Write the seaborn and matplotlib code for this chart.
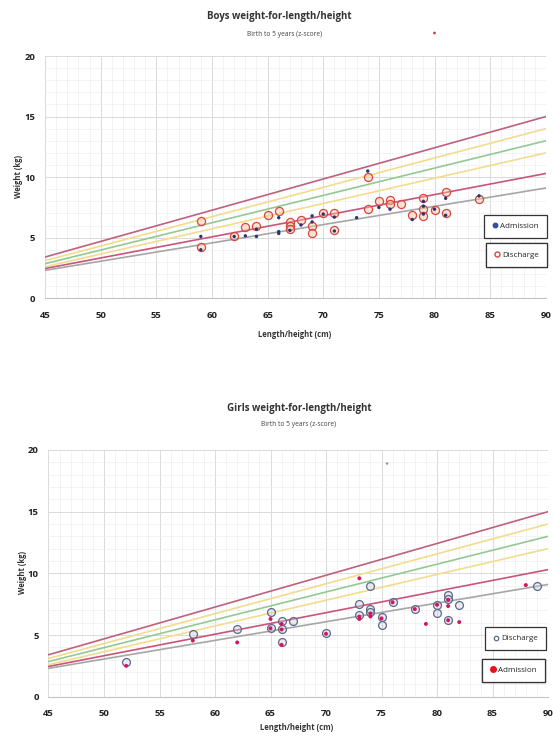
import numpy as np
import pandas as pd
import matplotlib
matplotlib.use('Agg')
import matplotlib.pyplot as plt
from matplotlib.lines import Line2D
from matplotlib.ticker import MultipleLocator
import seaborn as sns

sns.set_style('white')
plt.rcParams['font.family'] = ['Open Sans', 'DejaVu Sans']

# z-score reference lines (weight at 45 cm and 90 cm)
ref_length = [45, 90]
ref_names = ['+2', '+1', '0', '-1', '-2', '-3']
ref_at45 = [3.4, 3.1, 2.85, 2.6, 2.45, 2.3]
ref_at90 = [15.0, 14.0, 13.0, 12.0, 10.3, 9.1]
ref_colors = ['#c0607f', '#f2dc8e', '#93c993', '#f2dc8e', '#c8557d', '#a6a6a6']

# boys
boys_adm_len = [59, 59, 62, 63, 64, 64, 66, 66, 66, 67, 68, 69, 69, 70, 71, 71, 73,
                74, 75, 76, 78, 79, 79, 79, 80, 81, 81, 84]
boys_adm_wt = [5.1, 4.0, 5.1, 5.15, 5.7, 5.1, 6.65, 5.5, 5.35, 5.6, 6.05, 6.8, 6.3, 6.95,
               6.7, 5.55, 6.65, 10.5, 7.5, 7.35, 6.5, 8.0, 7.6, 6.95, 7.35, 8.25, 6.85,
               8.45]
boys_dis_len = [59, 59, 62, 63, 64, 65, 66, 67, 67, 67, 68, 69, 69, 70, 71, 71, 74, 74,
                75, 76, 76, 77, 78, 79, 79, 79, 80, 81, 81, 84]
boys_dis_wt = [6.4, 4.25, 5.1, 5.9, 6.0, 6.85, 7.2, 6.3, 6.0, 5.75, 6.45, 6.0, 5.4, 7.05,
               7.0, 5.6, 10.0, 7.35, 8.05, 8.1, 7.8, 7.8, 6.9, 8.3, 7.4, 6.8, 7.3, 8.75,
               7.05, 8.2]
boys_stray_len = [80]
boys_stray_wt = [21.9]

# girls
girls_dis_len = [52, 58, 62, 65, 65, 66, 66, 66, 67, 70, 73, 73, 74, 74, 74, 75, 75, 76,
                 78, 80, 80, 81, 81, 81, 82, 89]
girls_dis_wt = [2.8, 5.05, 5.5, 6.85, 5.55, 6.1, 5.45, 4.4, 6.15, 5.2, 7.5, 6.6, 9.0, 7.15,
                6.85, 6.5, 5.85, 7.7, 7.1, 7.45, 6.75, 8.25, 7.9, 6.25, 7.4, 9.0]
girls_adm_len = [52, 58, 62, 65, 65, 66, 66, 66, 70, 73, 73, 73, 74, 74, 75, 76, 78, 79,
                 80, 81, 81, 81, 82, 88]
girls_adm_wt = [2.5, 4.55, 4.4, 6.3, 5.55, 5.9, 5.45, 4.2, 5.1, 9.6, 6.5, 6.3, 6.75, 6.5,
                6.35, 7.65, 7.1, 5.9, 7.45, 7.85, 7.35, 6.2, 6.05, 9.05]
girls_stray_len = [75.5]
girls_stray_wt = [18.9]

ref = pd.DataFrame({
    'length': ref_length * len(ref_names),
    'weight': [v for a, b in zip(ref_at45, ref_at90) for v in (a, b)],
    'z': [n for n in ref_names for _ in ref_length],
})

fig = plt.figure(figsize=(5.53, 7.40), dpi=100)
ax_b = fig.add_axes([0.0814, 0.597, 0.9056, 0.3273])
ax_g = fig.add_axes([0.0877, 0.0585, 0.9033, 0.3334])


def setup_axes(ax):
    ax.set_xlim(45, 90)
    ax.set_ylim(0, 20)
    ax.xaxis.set_major_locator(MultipleLocator(5))
    ax.xaxis.set_minor_locator(MultipleLocator(1))
    ax.yaxis.set_major_locator(MultipleLocator(5))
    ax.yaxis.set_minor_locator(MultipleLocator(1))
    ax.grid(which='major', color='#dadada', lw=0.7)
    ax.grid(which='minor', color='#eeeeee', lw=0.5)
    ax.set_axisbelow(True)
    for s in ['top', 'right', 'left']:
        ax.spines[s].set_visible(False)
    ax.spines['bottom'].set_color('#c4c4c4')
    ax.tick_params(which='both', length=0)
    ax.tick_params(axis='x', pad=9, labelsize=6.8, labelcolor='#222222')
    ax.tick_params(axis='y', pad=7, labelsize=6.8, labelcolor='#222222')
    for lab in ax.get_xticklabels() + ax.get_yticklabels():
        lab.set_fontweight('bold')
    ax.set_xlabel('')
    ax.set_ylabel('')


def draw_refs(ax):
    sns.lineplot(data=ref, x='length', y='weight', hue='z', hue_order=ref_names,
                 palette=ref_colors, legend=False, lw=1.2, ax=ax)


def add_box(ax, handle, label, cx, cy):
    leg = ax.legend(handles=[handle], labels=[label], loc='center',
                    bbox_to_anchor=(cx, cy), bbox_transform=fig.transFigure,
                    frameon=True, fancybox=False, edgecolor='#333333', framealpha=1,
                    fontsize=5.8, handlelength=0.7, handletextpad=0.3, borderpad=1.0)
    leg.get_frame().set_linewidth(0.9)
    ax.add_artist(leg)


# boys chart
draw_refs(ax_b)
sns.scatterplot(x=boys_dis_len, y=boys_dis_wt, s=34, color=(0.97, 0.78, 0.64, 0.45),
                edgecolor='#d9463f', linewidth=0.9, ax=ax_b, zorder=3)
sns.scatterplot(x=boys_adm_len, y=boys_adm_wt, s=6, color='#27347a', edgecolor='none',
                ax=ax_b, zorder=4)
sns.scatterplot(x=boys_stray_len, y=boys_stray_wt, s=4, color='#d63a4a', edgecolor='none',
                ax=ax_b, zorder=4)
ax_b.collections[-1].set_clip_on(False)
setup_axes(ax_b)
add_box(ax_b, Line2D([], [], marker='o', ls='', ms=3.2, color='#2f4f9f'), 'Admission',
        0.932, 0.694)
add_box(ax_b, Line2D([], [], marker='o', ls='', ms=3.6, mfc='white', mec='#d9463f', mew=1.0),
        'Discharge', 0.934, 0.655)

# girls chart
draw_refs(ax_g)
sns.scatterplot(x=girls_dis_len, y=girls_dis_wt, s=32, color=(0.82, 0.82, 0.86, 0.4),
                edgecolor='#5a6a8c', linewidth=0.9, ax=ax_g, zorder=3)
sns.scatterplot(x=girls_adm_len, y=girls_adm_wt, s=8, color='#d6135f', edgecolor='none',
                ax=ax_g, zorder=4)
sns.scatterplot(x=girls_stray_len, y=girls_stray_wt, s=3, color='#c07890', edgecolor='none',
                ax=ax_g, zorder=4)
setup_axes(ax_g)
add_box(ax_g, Line2D([], [], marker='o', ls='', ms=3.2, mfc='white', mec='#5a6a8c', mew=0.9),
        'Discharge', 0.933, 0.137)
add_box(ax_g, Line2D([], [], marker='o', ls='', ms=4, color='#e8101a'), 'Admission',
        0.9286, 0.094)

# titles and axis labels
fig.text(0.505, 1 - 16 / 740, 'Boys weight-for-length/height', ha='center', va='center',
         fontsize=7, fontweight='bold', color='#333333')
fig.text(0.515, 1 - 35 / 740, 'Birth to 5 years (z-score)', ha='center', va='center',
         fontsize=4.8, color='#444444')
fig.text(0.542, 1 - 409 / 740, 'Girls weight-for-length/height', ha='center', va='center',
         fontsize=7, fontweight='bold', color='#333333')
fig.text(0.539, 1 - 424 / 740, 'Birth to 5 years (z-score)', ha='center', va='center',
         fontsize=4.8, color='#444444')
fig.text(0.533, 1 - 335 / 740, 'Length/height (cm)', ha='center', va='center',
         fontsize=5.5, fontweight='bold', color='#333333')
fig.text(0.537, 1 - 728 / 740, 'Length/height (cm)', ha='center', va='center',
         fontsize=5.5, fontweight='bold', color='#333333')
fig.text(0.033, 1 - 177 / 740, 'Weight (kg)', ha='center', va='center', rotation=90,
         fontsize=5.5, fontweight='bold', color='#333333')
fig.text(0.040, 1 - 573 / 740, 'Weight (kg)', ha='center', va='center', rotation=90,
         fontsize=5.5, fontweight='bold', color='#333333')

fig.savefig('out.png', dpi=100)
